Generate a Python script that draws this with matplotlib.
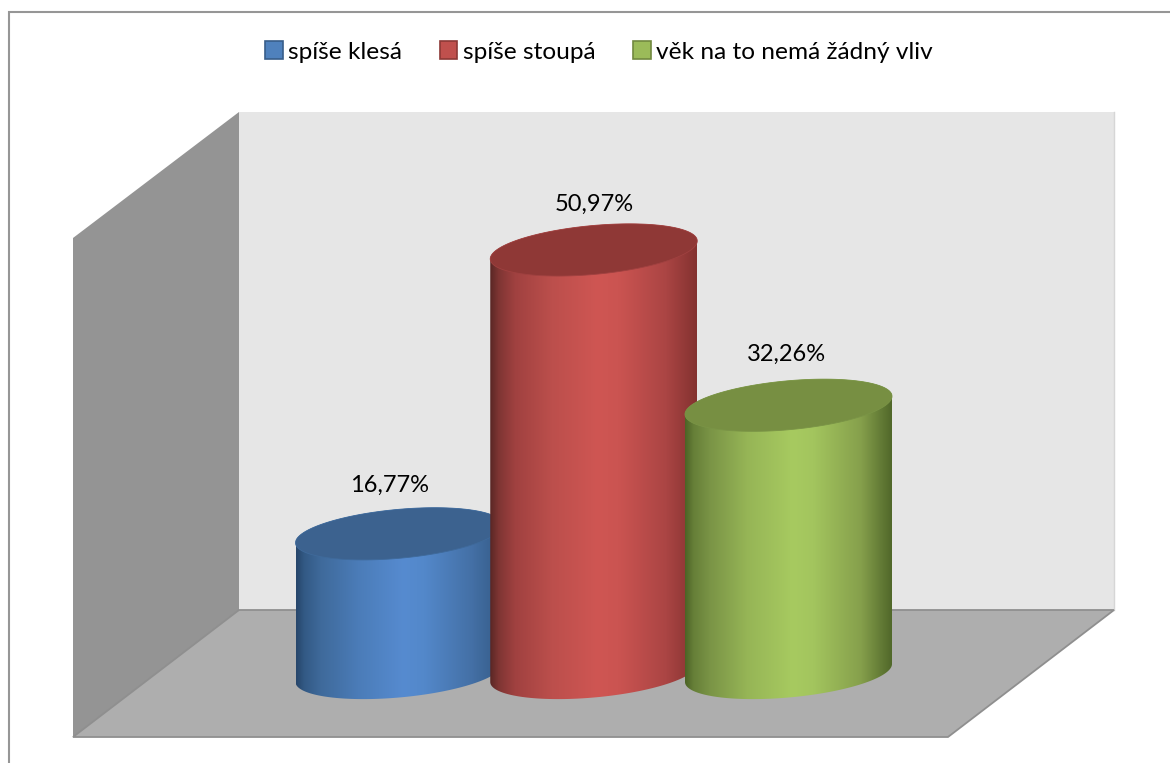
"""
Cylinder column chart with a drawn 3D backdrop (walls and floor).
Output: out.png
"""

import numpy as np
import matplotlib
matplotlib.use('Agg')
import matplotlib.pyplot as plt
from matplotlib.colors import LinearSegmentedColormap
from matplotlib.patches import Patch, Polygon, Rectangle
from matplotlib.path import Path

plt.rcParams['font.family'] = ['Lato', 'DejaVu Sans']

# ---------------------------------------------------------------------------
# Data
# ---------------------------------------------------------------------------
CATEGORIES = ['spíše klesá', 'spíše stoupá', 'věk na to nemá žádný vliv']
VALUES = [16.77, 50.97, 32.26]
VALUE_LABELS = ['16,77%', '50,97%', '32,26%']

# ---------------------------------------------------------------------------
# Style
# ---------------------------------------------------------------------------
LEGEND_FILL = ['#4f81bd', '#c0504d', '#9bbb59']
LEGEND_EDGE = ['#385d8a', '#8c3836', '#71893f']
TOP_COLORS = ['#3c628f', '#8f3836', '#778f42']
SIDE_STOPS = [0.0, 0.04, 0.12, 0.30, 0.52, 0.62, 0.85, 1.0]
SIDE_COLORS = [
    ['#27466b', '#335a85', '#3f6a9b', '#4b7cb8', '#568bd0', '#5388ca', '#4470a6', '#345a85'],
    ['#5a2725', '#7e3533', '#a04140', '#bc4f4c', '#cf5653', '#cb5451', '#ab4544', '#843230'],
    ['#4c6426', '#667f38', '#7a9446', '#96b556', '#a7ca60', '#a3c55e', '#86a04c', '#51682a'],
]
# label position relative to the cylinder's top centre, in pixels
LABEL_DX = [-9, 1, -2]
LABEL_DY = [-48, -46, -51]

W, H = 1170, 763
PX_PER_PCT = 8.3      # column height in pixels per percentage point
BASE_Y = 673          # pixel row of the base ellipse centres
FIRST_X, STEP_X = 399, 194.75
RADIUS_X, RADIUS_Y, TILT = 103.5, 24.5, 9


def ellipse(cx, cy):
    """Outline of a tilted cylinder cap, in pixels (y grows downwards)."""
    t = np.linspace(0, 2 * np.pi, 241)
    return cx + RADIUS_X * np.cos(t), cy + RADIUS_Y * np.sin(t) - TILT * np.cos(t)


def draw_cylinder(ax, i, value, label):
    cx = FIRST_X + i * STEP_X
    top = BASE_Y - value * PX_PER_PCT

    # side wall: gradient image clipped to the body outline
    t = np.linspace(0, np.pi, 121)
    low_x = cx + RADIUS_X * np.cos(t)
    low_y = BASE_Y + RADIUS_Y * np.sin(t) - TILT * np.cos(t)
    up_x = cx - RADIUS_X * np.cos(t)
    up_y = top - RADIUS_Y * np.sin(t) + TILT * np.cos(t)
    verts = np.column_stack([np.r_[low_x, up_x, low_x[0]], np.r_[low_y, up_y, low_y[0]]])
    codes = [Path.MOVETO] + [Path.LINETO] * (len(verts) - 2) + [Path.CLOSEPOLY]
    clip = Path(verts, codes)

    cmap = LinearSegmentedColormap.from_list(f'side{i}', list(zip(SIDE_STOPS, SIDE_COLORS[i])))
    grad = np.linspace(0, 1, 256).reshape(1, -1)
    im = ax.imshow(grad, cmap=cmap, aspect='auto', zorder=3 + i, interpolation='bilinear',
                   extent=(cx - RADIUS_X, cx + RADIUS_X, BASE_Y + 40, top - 40))
    im.set_clip_path(clip, transform=ax.transData)

    ex, ey = ellipse(cx, top)
    ax.fill(ex, ey, facecolor=TOP_COLORS[i], edgecolor=SIDE_COLORS[i][2],
            linewidth=0.6, zorder=3.5 + i)
    ax.text(cx + LABEL_DX[i], top + LABEL_DY[i], label, ha='center', va='center',
            fontsize=17, color='black', zorder=10)


def main():
    fig = plt.figure(figsize=(W / 100, H / 100), dpi=100)
    ax = fig.add_axes([0, 0, 1, 1])

    # outer chart frame, runs off the right and bottom of the picture
    ax.add_patch(Rectangle((8.5, 11.5), 1300, 1000, facecolor='white',
                           edgecolor='#969696', linewidth=1.5, zorder=0))

    # back wall, side wall, floor
    ax.add_patch(Polygon([(239, 112), (1114, 112), (1114, 610), (239, 610)],
                         facecolor='#e6e6e6', edgecolor='none', zorder=1))
    ax.plot([1114, 1114], [112, 610], color='#d6d6d6', linewidth=1.0, zorder=1)
    ax.add_patch(Polygon([(73, 238), (239, 112), (239, 610), (73, 737)],
                         facecolor='#949494', edgecolor='none', zorder=1))
    ax.add_patch(Polygon([(239, 610), (1114, 610), (948, 737), (73, 737)],
                         facecolor='#aeaeae', edgecolor='#8f8f8f', linewidth=1.3, zorder=2))

    for i, (value, label) in enumerate(zip(VALUES, VALUE_LABELS)):
        draw_cylinder(ax, i, value, label)

    handles = [Patch(facecolor=f, edgecolor=e, linewidth=1.2)
               for f, e in zip(LEGEND_FILL, LEGEND_EDGE)]
    ax.legend(handles, CATEGORIES, loc='center', bbox_to_anchor=(599 / W, 1 - 52 / H),
              bbox_transform=fig.transFigure, ncol=3, frameon=False, fontsize=17.6,
              handlelength=0.72, handleheight=0.72, handletextpad=0.22, columnspacing=1.55)

    ax.set_xlim(0, W)
    ax.set_ylim(H, 0)
    ax.axis('off')
    fig.savefig('out.png', dpi=100)
    plt.close(fig)


if __name__ == '__main__':
    main()
